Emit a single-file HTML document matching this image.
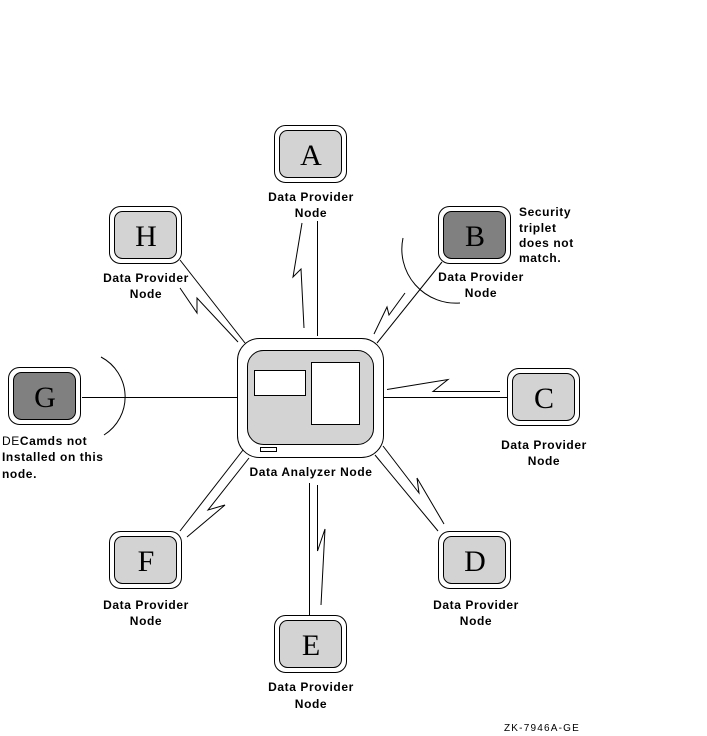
<!DOCTYPE html>
<html>
<head>
<meta charset="utf-8">
<style>
  html, body { margin: 0; padding: 0; background: #ffffff; }
  svg { display: block; }
  .lbl { font-family: "Liberation Sans", sans-serif; font-size: 12px; font-weight: bold; letter-spacing: 0.6px; fill: #000; }
  .big { font-family: "Liberation Serif", serif; font-size: 30px; fill: #000; }
  .ln { stroke: #000; stroke-width: 1; fill: none; }
</style>
</head>
<body>
<svg width="707" height="736" viewBox="0 0 707 736" xmlns="http://www.w3.org/2000/svg">
  <rect x="0" y="0" width="707" height="736" fill="#ffffff"/>

  <!-- Connectors -->
  <!-- A -->
  <line class="ln" x1="317.5" y1="221" x2="317.5" y2="336"/>
  <polyline class="ln" points="302,223 293,277 301,269 304,328"/>
  <!-- B -->
  <line class="ln" x1="442" y1="262" x2="377" y2="343"/>
  <polyline class="ln" points="374,334 387,307 389,315 405,293"/>
  <path class="ln" d="M403,238 A54,54 0 0 0 460,303"/>
  <!-- C -->
  <line class="ln" x1="384" y1="397.5" x2="507" y2="397.5"/>
  <polyline class="ln" points="387,389.5 448,379.5 433,391.5 500,391.5"/>
  <!-- D -->
  <line class="ln" x1="375" y1="455" x2="438" y2="531"/>
  <polyline class="ln" points="383,446 419,493 417,478 444,524"/>
  <!-- E -->
  <line class="ln" x1="309.5" y1="483" x2="309.5" y2="615"/>
  <polyline class="ln" points="317.5,485 317.5,551 325,529 321,605"/>
  <!-- F -->
  <line class="ln" x1="180" y1="531" x2="243" y2="450"/>
  <polyline class="ln" points="187,537 225,505 208,510 249,458"/>
  <!-- G -->
  <line class="ln" x1="82" y1="397.5" x2="238" y2="397.5"/>
  <path class="ln" d="M101,357 A45,45 0 0 1 104,435"/>
  <!-- H -->
  <line class="ln" x1="180" y1="260" x2="245" y2="343"/>
  <polyline class="ln" points="180,288 197,313 197,298 238,342"/>

  <!-- Central Data Analyzer Node -->
  <rect x="237.5" y="338.5" width="146" height="119" rx="22" ry="22" fill="#ffffff" stroke="#000" stroke-width="1"/>
  <rect x="247.5" y="350.5" width="126" height="94" rx="16" ry="16" fill="#d3d3d3" stroke="#000" stroke-width="1"/>
  <rect x="254.5" y="370.5" width="51" height="25" fill="#ffffff" stroke="#000" stroke-width="1"/>
  <rect x="311.5" y="362.5" width="48" height="62" fill="#ffffff" stroke="#000" stroke-width="1"/>
  <rect x="260.5" y="447.5" width="16" height="4" fill="#ffffff" stroke="#000" stroke-width="1"/>
  <text class="lbl" x="311" y="476" text-anchor="middle">Data Analyzer Node</text>

  <!-- Node A -->
  <g transform="translate(274,125)">
    <rect x="0.5" y="0.5" width="72" height="57" rx="11" fill="#fff" stroke="#000"/>
    <rect x="5.5" y="5.5" width="62" height="47" rx="8" fill="#d3d3d3" stroke="#000"/>
    <text class="big" x="37" y="40" text-anchor="middle">A</text>
  </g>
  <text class="lbl" x="311" y="201" text-anchor="middle">Data Provider</text>
  <text class="lbl" x="311" y="217" text-anchor="middle">Node</text>

  <!-- Node H -->
  <g transform="translate(109,206)">
    <rect x="0.5" y="0.5" width="72" height="57" rx="11" fill="#fff" stroke="#000"/>
    <rect x="5.5" y="5.5" width="62" height="47" rx="8" fill="#d3d3d3" stroke="#000"/>
    <text class="big" x="37" y="40" text-anchor="middle">H</text>
  </g>
  <text class="lbl" x="146" y="282" text-anchor="middle">Data Provider</text>
  <text class="lbl" x="146" y="298" text-anchor="middle">Node</text>

  <!-- Node B -->
  <g transform="translate(438,206)">
    <rect x="0.5" y="0.5" width="72" height="57" rx="11" fill="#fff" stroke="#000"/>
    <rect x="5.5" y="5.5" width="62" height="47" rx="8" fill="#808080" stroke="#000"/>
    <text class="big" x="37" y="40" text-anchor="middle">B</text>
  </g>
  <text class="lbl" x="481" y="281" text-anchor="middle">Data Provider</text>
  <text class="lbl" x="481" y="297" text-anchor="middle">Node</text>
  <text class="lbl" x="519" y="216">Security</text>
  <text class="lbl" x="519" y="232">triplet</text>
  <text class="lbl" x="519" y="247">does not</text>
  <text class="lbl" x="519" y="262">match.</text>

  <!-- Node C -->
  <g transform="translate(507,368)">
    <rect x="0.5" y="0.5" width="72" height="57" rx="11" fill="#fff" stroke="#000"/>
    <rect x="5.5" y="5.5" width="62" height="47" rx="8" fill="#d3d3d3" stroke="#000"/>
    <text class="big" x="37" y="40" text-anchor="middle">C</text>
  </g>
  <text class="lbl" x="544" y="449" text-anchor="middle">Data Provider</text>
  <text class="lbl" x="544" y="465" text-anchor="middle">Node</text>

  <!-- Node G -->
  <g transform="translate(8,367)">
    <rect x="0.5" y="0.5" width="72" height="57" rx="11" fill="#fff" stroke="#000"/>
    <rect x="5.5" y="5.5" width="62" height="47" rx="8" fill="#808080" stroke="#000"/>
    <text class="big" x="37" y="40" text-anchor="middle">G</text>
  </g>
  <text class="lbl" x="2" y="445"><tspan font-weight="normal">DE</tspan>Camds not</text>
  <text class="lbl" x="2" y="461">Installed on this</text>
  <text class="lbl" x="2" y="478">node.</text>

  <!-- Node D -->
  <g transform="translate(438,531)">
    <rect x="0.5" y="0.5" width="72" height="57" rx="11" fill="#fff" stroke="#000"/>
    <rect x="5.5" y="5.5" width="62" height="47" rx="8" fill="#d3d3d3" stroke="#000"/>
    <text class="big" x="37" y="40" text-anchor="middle">D</text>
  </g>
  <text class="lbl" x="476" y="609" text-anchor="middle">Data Provider</text>
  <text class="lbl" x="476" y="625" text-anchor="middle">Node</text>

  <!-- Node E -->
  <g transform="translate(274,615)">
    <rect x="0.5" y="0.5" width="72" height="57" rx="11" fill="#fff" stroke="#000"/>
    <rect x="5.5" y="5.5" width="62" height="47" rx="8" fill="#d3d3d3" stroke="#000"/>
    <text class="big" x="37" y="40" text-anchor="middle">E</text>
  </g>
  <text class="lbl" x="311" y="691" text-anchor="middle">Data Provider</text>
  <text class="lbl" x="311" y="708" text-anchor="middle">Node</text>

  <!-- Node F -->
  <g transform="translate(109,531)">
    <rect x="0.5" y="0.5" width="72" height="57" rx="11" fill="#fff" stroke="#000"/>
    <rect x="5.5" y="5.5" width="62" height="47" rx="8" fill="#d3d3d3" stroke="#000"/>
    <text class="big" x="37" y="40" text-anchor="middle">F</text>
  </g>
  <text class="lbl" x="146" y="609" text-anchor="middle">Data Provider</text>
  <text class="lbl" x="146" y="625" text-anchor="middle">Node</text>

  <!-- Figure id -->
  <text x="542" y="731" text-anchor="middle" font-family="Liberation Sans, sans-serif" font-size="10" letter-spacing="1.2" fill="#000">ZK-7946A-GE</text>
</svg>
</body>
</html>
